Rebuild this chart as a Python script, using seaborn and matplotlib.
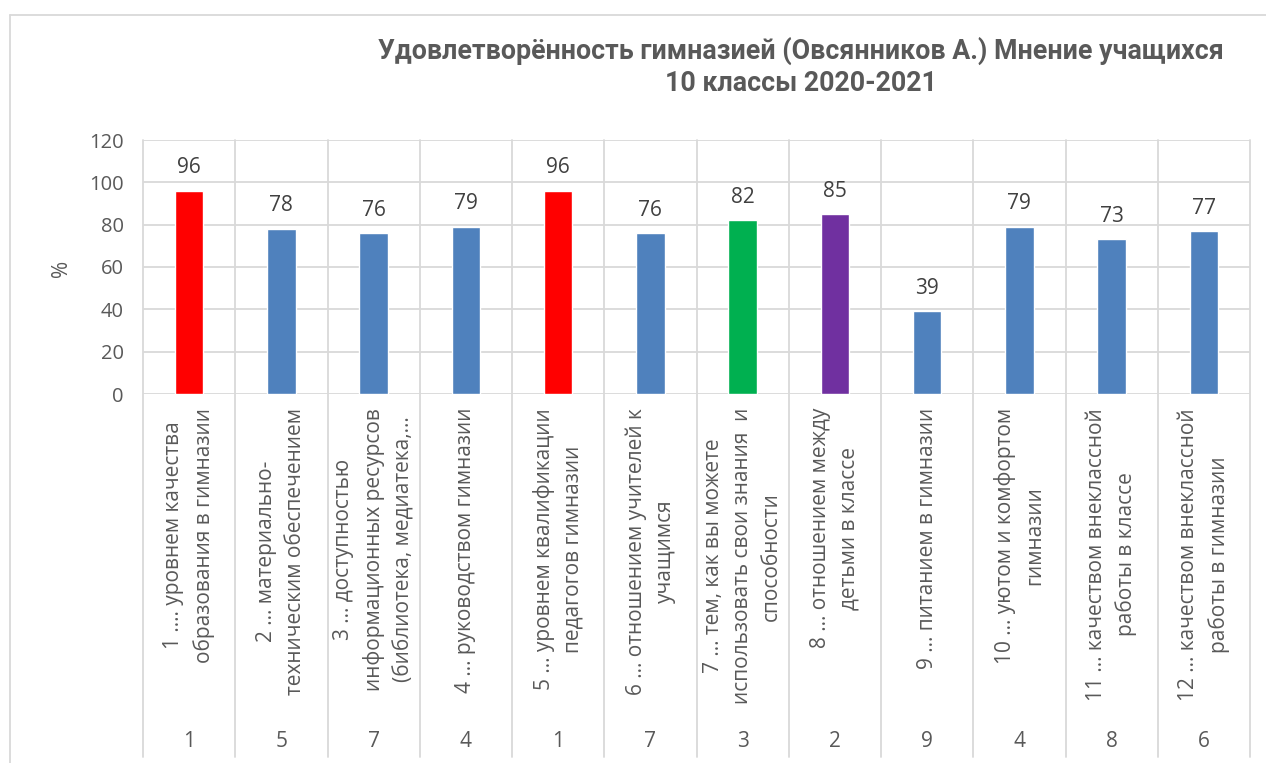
import matplotlib
matplotlib.use("Agg")
import matplotlib.pyplot as plt
import matplotlib.transforms as mtransforms
from matplotlib.lines import Line2D
import numpy as np
import pandas as pd
import seaborn as sns

# ---- data -------------------------------------------------------------
categories = [
    "1 …. уровнем качества\nобразования в гимназии",
    "2 … материально-\nтехническим обеспечением",
    "3 … доступностью\nинформационных ресурсов\n(библиотека, медиатека,…",
    "4 … руководством гимназии",
    "5 … уровнем квалификации\nпедагогов гимназии",
    "6 … отношением учителей к\nучащимся",
    "7 … тем, как вы можете\nиспользовать свои знания  и\nспособности",
    "8 … отношением между\nдетьми в классе",
    "9 … питанием в гимназии",
    "10 … уютом и комфортом\nгимназии",
    "11 … качеством внеклассной\nработы в классе",
    "12 … качеством внеклассной\nработы в гимназии",
]
values = [96, 78, 76, 79, 96, 76, 82, 85, 39, 79, 73, 77]
ranks = [1, 5, 7, 4, 1, 7, 3, 2, 9, 4, 8, 6]
bar_colors = ["#FF0000", "#4F81BD", "#4F81BD", "#4F81BD", "#FF0000", "#4F81BD",
              "#00B050", "#7030A0", "#4F81BD", "#4F81BD", "#4F81BD", "#4F81BD"]
y_ticks = [0, 20, 40, 60, 80, 100, 120]
title_text = ("Удовлетворённость гимназией (Овсянников А.) Мнение учащихся\n"
              "10 классы 2020-2021")
y_label = "%"

# ---- style ------------------------------------------------------------
sns.set_theme(style="white")
plt.rcParams["font.family"] = ["Open Sans", "DejaVu Sans"]

GRID = "#D9D9D9"
TEXT = "#595959"

W, H = 1266, 763
fig = plt.figure(figsize=(W / 100, H / 100), dpi=100)
ax = fig.add_axes([143 / W, 1 - 394 / H, (1250 - 143) / W, 254 / H])

df = pd.DataFrame({"cat": categories, "val": values})
sns.barplot(data=df, x="cat", y="val", hue="cat", palette=bar_colors,
            legend=False, width=0.31, saturation=1, ax=ax, zorder=3)

ax.set_xlim(-0.5, len(categories) - 0.5)
ax.set_ylim(0, 120)
ax.set_yticks(y_ticks)
ax.set_xticks([])
ax.set_xlabel("")
ax.set_ylabel("")
ax.tick_params(axis="y", length=0, pad=14, labelsize=14.5, labelcolor=TEXT)
for s in ax.spines.values():
    s.set_visible(False)
ax.yaxis.grid(True, color=GRID, lw=1.3, zorder=0)
ax.set_axisbelow(True)

# category separators run down through the label area
for b in np.arange(-0.5, len(categories)):
    ax.axvline(b, ymin=-1.43, ymax=1, clip_on=False, color=GRID, lw=1.3, zorder=1)

# value labels on bars
for c in ax.containers:
    ax.bar_label(c, fmt="%d", padding=9, fontsize=15, color="#404040")

trans = mtransforms.blended_transform_factory(ax.transData, ax.transAxes)
for i, (lab, r) in enumerate(zip(categories, ranks)):
    ax.text(i, -0.055, lab, transform=trans, rotation=90, ha="center", va="top",
            multialignment="center", fontsize=15, color=TEXT, linespacing=1.5)
    ax.text(i, -1.37, str(r), transform=trans, ha="center", va="center",
            fontsize=15, color=TEXT)

fig.text(62 / W, 1 - 268 / H, y_label, rotation=90, ha="center", va="center",
         fontsize=15, color=TEXT)

fig.text(801 / W, 1 - 67 / H, title_text, ha="center", va="center",
         family=["Roboto", "DejaVu Sans"], fontsize=19.3, fontweight="bold",
         color=TEXT, linespacing=1.25)

# chart frame
fig.add_artist(Line2D([10 / W, 10 / W], [0, 1 - 15 / H], transform=fig.transFigure,
                      color=GRID, lw=1.3))
fig.add_artist(Line2D([10 / W, 1], [1 - 15 / H, 1 - 15 / H], transform=fig.transFigure,
                      color=GRID, lw=1.3))

fig.savefig("out.png", dpi=100, facecolor="white")
